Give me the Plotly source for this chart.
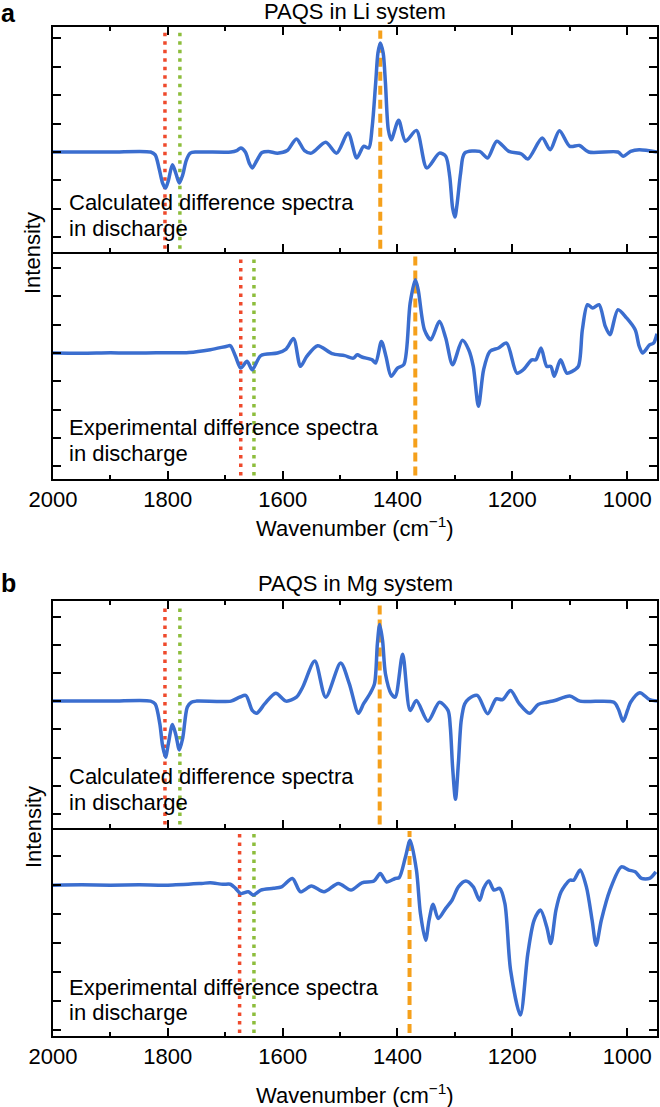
import plotly.graph_objects as go

# ---------------- data ----------------
li_calc_wn = [2000, 1900, 1830, 1822, 1815, 1809, 1804, 1799, 1792, 1786, 1780, 1774, 1768, 1761, 1750,
              1690, 1680, 1673, 1665, 1658, 1653, 1645, 1636, 1625, 1609, 1592, 1576, 1562, 1550, 1525,
              1506, 1486, 1471, 1459, 1450, 1444, 1438, 1434, 1430, 1425, 1421, 1416, 1411, 1398, 1386,
              1367, 1349, 1327, 1316, 1309, 1304, 1300, 1296, 1290, 1283, 1257, 1243, 1227, 1206, 1184,
              1173, 1148, 1134, 1118, 1100, 1083, 1067, 1016, 1007, 994, 979, 948]
li_calc_val = [0, 0, 0, -0.1, -0.6, -1.1, -1.27, -1.0, -0.45, -0.75, -1.09, -0.8, -0.3, -0.04, 0,
               0, 0.05, 0.14, 0.0, -0.4, -0.56, -0.3, -0.02, 0.02, -0.04, 0.05, 0.46, 0.05, -0.04, 0.34,
               -0.04, 0.67, -0.21, 0.2, 0.14, 0.9, 2.43, 3.49, 3.84, 3.49, 2.43, 0.79, 0.43, 1.12, 0.38,
               0.76, -0.56, -0.04, -0.15, -0.86, -1.97, -2.29, -1.8, -0.74, -0.04, 0.02, -0.21, 0.38, 0.02, -0.07,
               -0.25, 0.49, 0.08, 0.75, 0.2, 0.23, 0, 0, -0.15, 0.02, 0.08, 0]

li_exp_wn = [2000, 1950, 1900, 1872, 1820, 1763, 1726, 1697, 1691, 1682, 1673, 1662, 1653, 1638, 1609,
             1594, 1581, 1569, 1558, 1539, 1514, 1492, 1477, 1470, 1462, 1444, 1438, 1428, 1420, 1411,
             1400, 1389, 1378, 1369, 1364, 1353, 1342, 1327, 1316, 1304, 1287, 1276, 1268, 1259, 1250,
             1239, 1224, 1210, 1192, 1181, 1166, 1159, 1150, 1140, 1133, 1127, 1116, 1105, 1096, 1085,
             1078, 1069, 1060, 1049, 1038, 1030, 1016, 1001, 986, 979, 973, 961, 954, 948]
li_exp_val = [0, -0.01, 0.01, 0, 0.01, 0.02, 0.12, 0.24, 0.26, -0.12, -0.53, -0.29, -0.59, -0.09, 0,
              0.14, 0.51, -0.47, -0.12, 0.26, -0.02, -0.09, -0.18, -0.06, -0.14, -0.24, -0.35, 0.41, -0.12, -0.82,
              -0.53, -0.41, 1.76, 2.59, 2.24, 0.82, 0.47, 1.12, 0.53, -0.41, 0.45, 0.12, -0.47, -1.88, -0.59,
              0.06, 0.18, 0.35, -0.71, -0.59, -0.24, -0.24, 0.18, -0.47, -0.47, -0.82, -0.24, -0.71, -0.65, -0.47,
              0.82, 1.71, 1.59, 1.71, 0.94, 0.65, 1.53, 1.24, 0.82, 0.24, 0, 0.29, 0.35, 0.68]

mg_calc_wn = [2000, 1900, 1830, 1822, 1814, 1809, 1804, 1799, 1792, 1786, 1780, 1774, 1766, 1759, 1750,
              1690, 1675, 1664, 1653, 1645, 1631, 1612, 1594, 1576, 1565, 1544, 1525, 1499, 1484, 1468,
              1459, 1448, 1440, 1435, 1431, 1426, 1421, 1411, 1404, 1391, 1378, 1367, 1347, 1327, 1312,
              1308, 1304, 1299, 1294, 1289, 1283, 1276, 1261, 1243, 1228, 1217, 1203, 1188, 1170, 1155,
              1140, 1126, 1100, 1082, 1023, 1015, 1007, 999, 994, 978, 961, 948]
mg_calc_val = [0, 0, 0, -0.1, -0.8, -1.6, -1.99, -1.5, -0.83, -1.2, -1.73, -1.3, -0.21, -0.04, 0,
               0, 0.14, 0.2, -0.33, -0.43, -0.09, 0.28, 0, 0.14, 0.5, 1.42, 0.14, 1.35, 0.62, -0.43,
               -0.09, 0.26, 0.62, 2.04, 2.72, 2.15, 0.97, 0.26, 0.14, 1.66, -0.33, 0.02, -0.71, -0.04, -0.33,
               -0.92, -2.34, -3.48, -2.22, -0.69, -0.1, 0.08, 0.2, -0.45, 0.08, 0.05, 0.38, -0.09, -0.43, -0.12,
               -0.04, 0.02, 0.18, 0, -0.04, -0.3, -0.71, -0.3, -0.04, 0.3, 0.05, 0]

mg_exp_wn = [2000, 1950, 1900, 1850, 1800, 1741, 1726, 1704, 1691, 1682, 1673, 1660, 1651, 1638, 1616,
             1602, 1583, 1569, 1550, 1528, 1503, 1481, 1462, 1441, 1430, 1419, 1404, 1397, 1386, 1378,
             1367, 1360, 1351, 1345, 1338, 1329, 1316, 1305, 1294, 1281, 1268, 1257, 1250, 1241, 1232,
             1222, 1213, 1203, 1186, 1173, 1162, 1151, 1140, 1133, 1124, 1115, 1100, 1093, 1082, 1071,
             1061, 1054, 1045, 1030, 1010, 997, 986, 975, 961, 950]
mg_exp_val = [0, 0.01, 0, 0.01, 0, 0.06, 0.08, 0.03, 0.03, -0.11, -0.29, -0.23, -0.34, -0.17, -0.11,
              -0.06, 0.23, -0.23, -0.03, -0.23, 0.06, -0.17, 0.08, 0.14, 0.4, 0.11, 0.23, 0.26, 0.98, 1.55,
              0.52, -0.98, -1.9, -1.21, -0.66, -1.15, -0.8, -0.52, -0.06, 0.14, -0.06, -0.52, -0.11, 0.14, -0.17,
              -0.11, -0.63, -2.93, -4.48, -2.36, -1.21, -0.86, -1.44, -2.01, -0.86, -0.23, 0.17, 0.17, 0.52, -0.06,
              -1.21, -2.07, -1.21, -0.17, 0.63, 0.52, 0.46, 0.23, 0.23, 0.46]

# marker lines: red dotted, green dotted, orange dashed
li_calc_marks = [1805, 1779, 1430]
li_exp_marks = [1673, 1650, 1369]
mg_calc_marks = [1805, 1779, 1431]
mg_exp_marks = [1675, 1650, 1379]

x_range = [2000, 948]
x_ticks = [2000, 1800, 1600, 1400, 1200, 1000]
x_minor = [1900, 1700, 1500, 1300, 1100]

# y ranges (arbitrary intensity units)
li_calc_range = [-3.52, 4.40]
li_exp_range = [-4.45, 3.57]
mg_calc_range = [-4.50, 3.55]
mg_exp_range = [-5.20, 1.97]

BLUE = "#3b6ecf"
RED = "#ef4a2c"
GREEN = "#8dbd3c"
ORANGE = "#f5a01b"
FONT = "Liberation Sans, Arial, sans-serif"
FS = 22

W, H = 660, 1107


def px_x(p):
    return p / W


def px_y(p):
    return 1 - p / H


fig = go.Figure()

panels = [
    (li_calc_wn, li_calc_val, li_calc_marks, li_calc_range, (27, 252), False),
    (li_exp_wn, li_exp_val, li_exp_marks, li_exp_range, (252, 479), True),
    (mg_calc_wn, mg_calc_val, mg_calc_marks, mg_calc_range, (601, 828), False),
    (mg_exp_wn, mg_exp_val, mg_exp_marks, mg_exp_range, (828, 1036), True),
]

shapes = []
for i, (wn, val, marks, yr, (top, bot), is_exp) in enumerate(panels, start=1):
    xa = "x" if i == 1 else f"x{i}"
    ya = "y" if i == 1 else f"y{i}"
    fig.add_trace(go.Scatter(
        x=wn, y=val, mode="lines", xaxis=xa, yaxis=ya,
        line=dict(color=BLUE, width=3.5, shape="spline", smoothing=0.8),
        showlegend=False, hoverinfo="skip"))
    styles = [(RED, "3.5px,5px", 3.5), (GREEN, "3.5px,5px", 3.5), (ORANGE, "9px,5px", 4)]
    for m, (c, d, w) in zip(marks, styles):
        shapes.append(dict(type="line", xref=xa, yref=f"{ya} domain",
                           x0=m, x1=m, y0=0.015, y1=0.985,
                           line=dict(color=c, width=w, dash=d), layer="below"))

    axis_common = dict(showline=True, linecolor="black", linewidth=1.5,
                       showgrid=False, zeroline=False, ticks="inside",
                       tickcolor="black", tickwidth=1.5, automargin=False)
    xdict = dict(axis_common, domain=[px_x(53), px_x(657)], range=x_range,
                 anchor=ya, tickvals=x_ticks, ticklen=8,
                 minor=dict(ticks="inside", ticklen=4, tickvals=x_minor,
                            tickcolor="black", tickwidth=1.5, showgrid=False),
                 showticklabels=is_exp,
                 tickfont=dict(family=FONT, size=FS, color="black"),
                 mirror=False if is_exp else "ticks")
    ydict = dict(axis_common, domain=[px_y(bot), px_y(top)], range=yr,
                 anchor=xa, dtick=1, tick0=0, ticklen=8, showticklabels=False,
                 mirror="ticks")
    fig.layout[f"xaxis{'' if i == 1 else i}"] = xdict
    fig.layout[f"yaxis{'' if i == 1 else i}"] = ydict

ann = []


def text(s, x, y, size=FS, xanchor="left", yanchor="middle", bold=False, angle=0):
    ann.append(dict(text=f"<b>{s}</b>" if bold else s, x=px_x(x), y=px_y(y),
                    xref="paper", yref="paper", showarrow=False, xanchor=xanchor,
                    yanchor=yanchor, textangle=angle, borderpad=0,
                    font=dict(family=FONT, size=size, color="black")))


text("a", 0, -2, size=25, bold=True, yanchor="top")
text("PAQS in Li system", 355, -2, xanchor="center", yanchor="top")
text("b", 0, 583, size=25, bold=True)
text("PAQS in Mg system", 355, 583, xanchor="center")
text("Intensity", 33, 253, xanchor="center", angle=-90)
text("Intensity", 33, 827, xanchor="center", angle=-90)
text("Calculated difference spectra", 68, 202)
text("in discharge", 68, 228)
text("Experimental difference spectra", 68, 428)
text("in discharge", 68, 454)
text("Calculated difference spectra", 68, 776)
text("in discharge", 68, 802)
text("Experimental difference spectra", 68, 987)
text("in discharge", 68, 1013)
text("Wavenumber (cm<sup>−1</sup>)", 355, 527, xanchor="center")
text("Wavenumber (cm<sup>−1</sup>)", 355, 1094, xanchor="center")

fig.update_layout(width=W, height=H, margin=dict(l=0, r=0, t=0, b=0, autoexpand=False),
                  paper_bgcolor="white", plot_bgcolor="white",
                  shapes=shapes, annotations=ann, showlegend=False,
                  font=dict(family=FONT, size=FS, color="black"))

fig.write_html("out.html", config={"displayModeBar": False},
               post_script="document.body.style.margin='0px';document.body.style.overflow='hidden';")
